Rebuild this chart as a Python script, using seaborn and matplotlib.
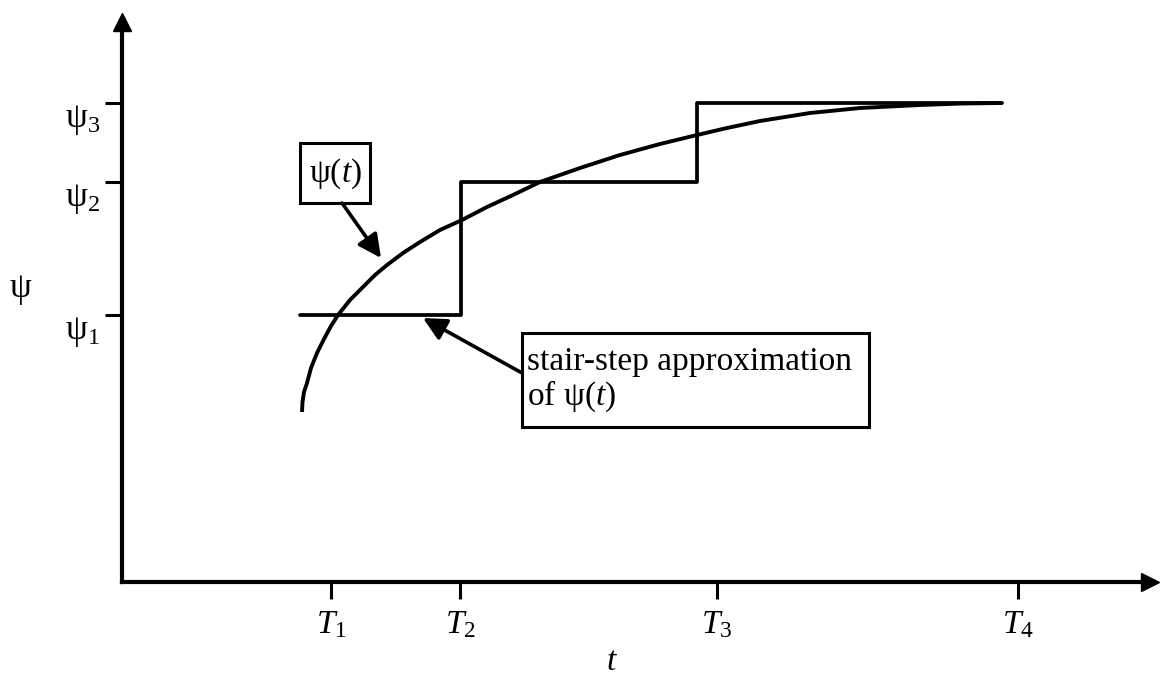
import matplotlib
matplotlib.use("Agg")
import matplotlib.pyplot as plt
from matplotlib.patches import Rectangle
import numpy as np
import pandas as pd
import seaborn as sns

# Time marks on the t axis and psi levels on the vertical axis
t_ticks = [2.09, 3.38, 5.95, 8.96]
t_labels = [r"$T_1$", r"$T_2$", r"$T_3$", r"$T_4$"]
psi_levels = [2.67, 4.00, 4.79]
psi_labels = [r"$\mathrm{\psi}_1$", r"$\mathrm{\psi}_2$", r"$\mathrm{\psi}_3$"]

# Continuous response psi(t)
t_curve = [1.80, 1.805, 1.82, 1.85, 1.89, 1.95, 2.02, 2.09, 2.16, 2.28, 2.41,
           2.53, 2.65, 2.81, 2.98, 3.18, 3.40, 3.65, 3.91, 4.18, 4.58, 4.98,
           5.38, 5.75, 6.05, 6.38, 6.88, 7.38, 7.98, 8.40, 8.80]
psi_curve = [1.70, 1.80, 1.90, 1.99, 2.14, 2.29, 2.43, 2.56, 2.67, 2.82, 2.95,
             3.07, 3.17, 3.29, 3.40, 3.52, 3.62, 3.75, 3.87, 4.00, 4.14, 4.27,
             4.38, 4.47, 4.54, 4.61, 4.69, 4.74, 4.77, 4.785, 4.79]

# Stair-step approximation: switch times and the level held from each one
t_steps = [1.78, 3.39, 5.75, 8.80]
psi_steps = [psi_levels[0], psi_levels[1], psi_levels[2], psi_levels[2]]

sns.set_style("ticks")
plt.rcParams["font.family"] = ["Liberation Serif", "DejaVu Serif"]
plt.rcParams["mathtext.fontset"] = "custom"
plt.rcParams["mathtext.rm"] = "Liberation Serif"
plt.rcParams["mathtext.it"] = "Liberation Serif:italic"
for key in ("text.color", "axes.labelcolor", "xtick.color", "ytick.color",
            "xtick.labelcolor", "ytick.labelcolor"):
    plt.rcParams[key] = "black"

fig = plt.figure(figsize=(11.6, 6.8), dpi=100)
ax = fig.add_axes([122 / 1160, 98 / 680, 1028 / 1160, 560 / 680])
ax.set_xlim(0, 10.28)
ax.set_ylim(0, 5.60)

curve = pd.DataFrame({"t": t_curve, "psi": psi_curve})
steps = pd.DataFrame({"t": t_steps, "psi": psi_steps})
sns.lineplot(data=curve, x="t", y="psi", ax=ax, color="black", lw=2.8,
             sort=False, solid_capstyle="butt", solid_joinstyle="round")
sns.lineplot(data=steps, x="t", y="psi", ax=ax, color="black", lw=2.7,
             sort=False, drawstyle="steps-post")

# Axis lines with arrowheads
for side in ("top", "right"):
    ax.spines[side].set_visible(False)
for side in ("left", "bottom"):
    ax.spines[side].set_linewidth(3.0)
    ax.spines[side].set_color("black")
ax.plot(1, 0, ">", color="black", markersize=13, transform=ax.transAxes,
        clip_on=False)
ax.plot(0, 1, "^", color="black", markersize=13, transform=ax.transAxes,
        clip_on=False)

ax.set_xticks(t_ticks)
ax.set_xticklabels(t_labels, fontsize=24)
ax.set_yticks(psi_levels)
ax.set_yticklabels(psi_labels, fontsize=25, va="top")
ax.tick_params(axis="x", direction="out", length=12, width=2.2, pad=8,
               color="black", labelcolor="black")
ax.tick_params(axis="y", direction="out", length=12, width=2.2, pad=4,
               color="black", labelcolor="black")

ax.set_xlabel(r"$t$", fontsize=24, color="black")
ax.xaxis.set_label_coords(0.4767, -0.115)
ax.set_ylabel(r"$\mathrm{\psi}$", fontsize=25, rotation=0, ha="center",
              va="center", color="black")
ax.yaxis.set_label_coords(-0.099, 0.521)

# Label box for the continuous curve
ax.add_patch(Rectangle((1.78, 3.79), 0.70, 0.60, fill=False, lw=2.2,
                       edgecolor="black", zorder=5))
ax.text(2.13, 4.08, r"$\mathrm{\psi}(t)$", fontsize=24, ha="center",
        va="center", color="black")
ax.annotate("", xy=(2.59, 3.24), xytext=(2.20, 3.79),
            arrowprops=dict(arrowstyle="-|>,head_length=0.7,head_width=0.35",
                            lw=2.6, color="black", mutation_scale=20,
                            shrinkA=0, shrinkB=0))

# Label box for the stair-step approximation
ax.add_patch(Rectangle((4.00, 1.55), 3.47, 0.94, fill=False, lw=2.2,
                       edgecolor="black", zorder=5))
ax.text(4.05, 2.12, "stair-step approximation", fontsize=24, ha="left",
        va="baseline", color="black")
ax.text(4.05, 1.77, r"of $\mathrm{\psi}(t)$", fontsize=24, ha="left",
        va="baseline", color="black")
ax.annotate("", xy=(3.01, 2.64), xytext=(4.00, 2.09),
            arrowprops=dict(arrowstyle="-|>,head_length=0.7,head_width=0.35",
                            lw=2.6, color="black", mutation_scale=20,
                            shrinkA=0, shrinkB=0))

fig.savefig("out.png", dpi=100)
